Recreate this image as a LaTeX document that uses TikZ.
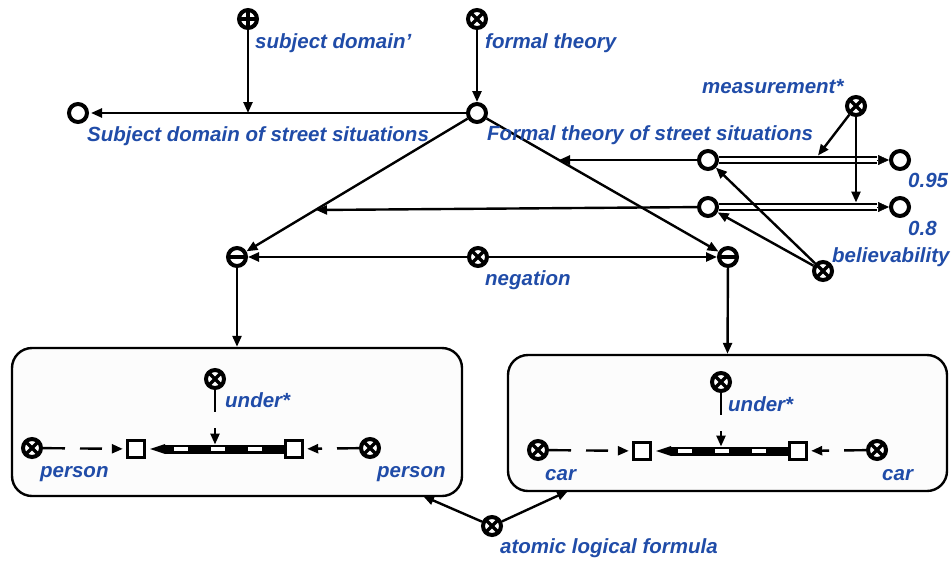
\documentclass[tikz,border=0pt]{standalone}
\usepackage{fontspec}
\setmainfont{Liberation Sans}
\usetikzlibrary{arrows.meta,calc}
\definecolor{lbl}{RGB}{32,76,168}
\definecolor{boxfill}{RGB}{252,252,252}
\begin{document}
\begin{tikzpicture}[x=1pt,y=-1pt,
  ring/.style={circle,draw,line width=4pt,minimum size=18pt,inner sep=0pt,fill=white},
  xring/.style={ring,path picture={\draw[line width=3.4pt]
      (path picture bounding box.north west)--(path picture bounding box.south east)
      (path picture bounding box.north east)--(path picture bounding box.south west);}},
  pring/.style={ring,path picture={\draw[line width=3.2pt]
      (path picture bounding box.north)--(path picture bounding box.south)
      (path picture bounding box.east)--(path picture bounding box.west);}},
  mring/.style={ring,path picture={\draw[line width=3.2pt]
      (path picture bounding box.east)--(path picture bounding box.west);}},
  sq/.style={rectangle,draw,line width=3.4pt,minimum size=17pt,inner sep=0pt,fill=white},
  frame/.style={rectangle,draw,line width=2.4pt,rounded corners=20pt,fill=boxfill,inner sep=0pt},
  lab/.style={text=lbl,font=\fontsize{20.5}{24}\selectfont\bfseries\itshape,inner sep=0pt,anchor=base west},
  conn/.style={line width=2.4pt,-{Triangle[length=11pt,width=9pt]}},
  dconn/.style={conn,dash pattern=on 22pt off 15pt,shorten >=3pt},
  uconn/.style={conn,dash pattern=on 22pt off 16pt},
  dbl/.style={line width=1.8pt,double=white,double distance=4.5pt,shorten >=12pt},
  dtip/.style={line width=0.5pt,-{Triangle[length=11pt,width=10pt]}},
  barline/.style={line width=9pt,shorten >=4pt,-{Triangle[length=15pt,width=10pt,line width=0pt]}},
  barwhite/.style={white,line width=4pt,dash pattern=on 14pt off 23pt,dash phase=15pt,shorten >=20pt},
]
\useasboundingbox (0,0) rectangle (952,563);

% frames
\node[frame,minimum width=450pt,minimum height=148pt] (boxL) at (237,422) {};
\node[frame,minimum width=439pt,minimum height=136pt] (boxR) at (727.5,423) {};

% top nodes
\node[pring] (sdp) at (248,19) {};
\node[xring] (ft) at (477,19) {};
\node[ring] (FT) at (477,113) {};
\node[ring] (SD) at (78,113) {};
\node[xring] (meas) at (856,106) {};
\node[ring] (c1) at (708,160) {};
\node[ring] (c2) at (900,160) {};
\node[ring] (c3) at (708,207) {};
\node[ring] (c4) at (900,207) {};
\node[xring] (bel) at (823,271) {};
\node[mring] (negL) at (237,257) {};
\node[xring] (neg) at (478,257) {};
\node[mring] (negR) at (728,257) {};
\node[xring] (alf) at (492,526) {};

% helper coordinates
\coordinate (sdj) at (248,113);
\coordinate (j1) at (559,160);
\coordinate (j2) at (316,210);
\coordinate (m1) at (818,155.5);
\coordinate (m2) at (856,202.5);
\coordinate (bL) at (423,496);
\coordinate (bR) at (568,491);

% connectors top
\draw[conn,shorten >=2pt] (FT) -- (SD);
\draw[conn] (sdp) -- (sdj);
\draw[conn] (ft) -- (FT);
\draw[conn] (FT) -- (negL);
\draw[conn] (FT) -- (negR);
\draw[conn] (c1) -- (j1);
\draw[conn] (c3) -- (j2);
\draw[dbl] (c1) -- (c2);
\draw[dtip] ($(c2.west)+(-12,0)$) -- (c2.west);
\draw[dbl] (c3) -- (c4);
\draw[dtip] ($(c4.west)+(-12,0)$) -- (c4.west);
\draw[conn] (meas) -- (m1);
\draw[conn] (meas) -- (m2);
\draw[conn] (bel) -- (c1);
\draw[conn] (bel) -- (c3);
\draw[conn] (neg) -- (negL);
\draw[conn] (neg) -- (negR);
\draw[conn] (negL) -- (boxL.north);
\draw[conn] (negR) -- (boxR.north);
\draw[conn] (alf) -- (bL);
\draw[conn] (alf) -- (bR);

% left frame contents
\node[xring] (underL) at (215,379) {};
\node[xring] (personL) at (32,448) {};
\node[sq] (sqLL) at (136,449) {};
\node[sq] (sqLR) at (294,449) {};
\node[xring] (personR) at (370,448) {};
\coordinate (uLt) at (215,444.5);
\draw[barline] (sqLR.west) -- (sqLL.east);
\draw[barwhite] (sqLR.west) -- (sqLL.east);
\draw[dconn] (personL) -- (sqLL);
\draw[dconn] (personR) -- (sqLR);
\draw[uconn] (underL) -- (uLt);

% right frame contents
\node[xring] (underR) at (721,382) {};
\node[xring] (carL) at (538,450) {};
\node[sq] (sqRL) at (642,451) {};
\node[sq] (sqRR) at (798,451) {};
\node[xring] (carR) at (877,450) {};
\coordinate (uRt) at (721,446.5);
\draw[barline] (sqRR.west) -- (sqRL.east);
\draw[barwhite] (sqRR.west) -- (sqRL.east);
\draw[dconn] (carL) -- (sqRL);
\draw[dconn] (carR) -- (sqRR);
\draw[uconn] (underR) -- (uRt);

% labels
\node[lab] (t1) at (255,48) {subject domain'};
\node[lab] (t2) at (485,48) {formal theory};
\node[lab] (t3) at (87,141) {Subject domain of street situations};
\node[lab] (t4) at (487,140) {Formal theory of street situations};
\node[lab] (t5) at (702,93) {measurement*};
\node[lab] (t6) at (908,187) {0.95};
\node[lab] (t7) at (908,235) {0.8};
\node[lab] (t8) at (832,262) {believability};
\node[lab] (t9) at (485,285) {negation};
\node[lab] (t10) at (225,407) {under*};
\node[lab] (t11) at (40,477) {person};
\node[lab] (t12) at (377,477) {person};
\node[lab] (t13) at (728,411) {under*};
\node[lab] (t14) at (545,480) {car};
\node[lab] (t15) at (882,480) {car};
\node[lab] (t16) at (500,553) {atomic logical formula};
\end{tikzpicture}
\end{document}
